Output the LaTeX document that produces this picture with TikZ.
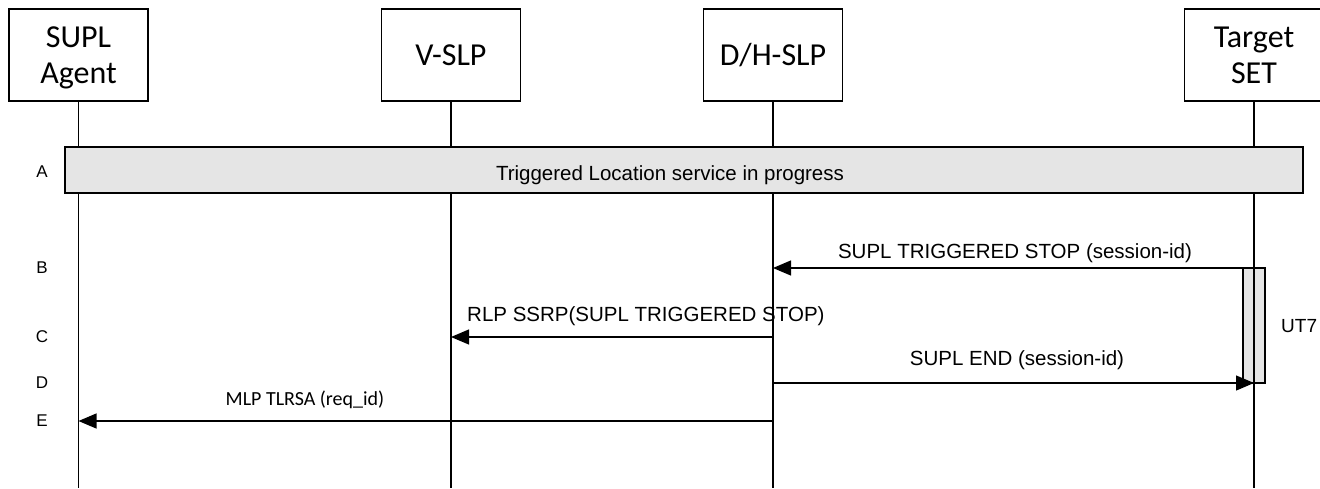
\documentclass[tikz,border=0pt]{standalone}
\usepackage{fontspec}
\setmainfont{Liberation Sans}
\newfontfamily\calib{Carlito}
\usetikzlibrary{arrows.meta}
\begin{document}
\begin{tikzpicture}[x=1pt,y=-1pt,
  ent/.style={draw,line width=1.2pt,minimum width=139pt,minimum height=92pt,inner sep=0pt},
  etext/.style={font=\calib\fontsize{32}{36}\selectfont,inner sep=0pt,anchor=base},
  life/.style={line width=1.2pt},
  msg/.style={line width=1.2pt,-{Triangle[length=18pt,width=15pt]}},
  lbl/.style={font=\fontsize{20.5}{24}\selectfont,inner sep=0pt,anchor=base},
  steplbl/.style={font=\fontsize{17}{20}\selectfont,inner sep=0pt}]
\useasboundingbox (0,0) rectangle (1320,488);
\node[ent] (sa) at (78.5,55) {};
\node[ent] (vs) at (451,55) {};
\node[ent] (dh) at (773,55) {};
\node[ent] (ts) at (1254,55) {};
\node[etext] (saA) at (78.5,47) {SUPL};
\node[etext] (saB) at (78.5,83) {Agent};
\node[etext] (vsA) at (451,65) {V-SLP};
\node[etext] (dhA) at (773,65) {D/H-SLP};
\node[etext] (tsA) at (1254,47) {Target};
\node[etext] (tsB) at (1254,83) {SET};
\foreach \n/\x in {sa/78.5,vs/451,dh/773,ts/1254}{
  \coordinate (\n end) at (\x,488);
  \draw[life] (\n.south) -- (\n end);
}
\node[draw,line width=1.2pt,fill=black!10,minimum width=1238pt,minimum height=46pt,inner sep=0pt] (band) at (684,170) {};
\node[lbl] (bandt) at (670,180) {Triggered Location service in progress};
\node[steplbl] (lA) at (42,172) {A};
\node[steplbl] (lB) at (42,268) {B};
\node[steplbl] (lC) at (42,337) {C};
\node[steplbl] (lD) at (42,383) {D};
\node[steplbl] (lE) at (42,421) {E};
% activation
\node[draw,line width=1.2pt,fill=black!10,minimum width=22pt,minimum height=115pt,inner sep=0pt] (act) at (1254,325.5) {};
\draw[line width=1.2pt] (act.north) -- (act.south);
\node[font=\fontsize{19}{22}\selectfont,inner sep=0pt,anchor=west] (ut) at (1281,326) {UT7};
% messages
\coordinate (bS) at (1254,268); \coordinate (bE) at (773,268);
\draw[msg] (bS) -- (bE);
\node[lbl] (mB) at (1015,258) {SUPL TRIGGERED STOP (session-id)};
\coordinate (cS) at (773,337); \coordinate (cE) at (451,337);
\draw[msg] (cS) -- (cE);
\node[lbl,anchor=base west] (mC) at (467,321) {RLP SSRP(SUPL TRIGGERED STOP)};
\coordinate (dS) at (773,383); \coordinate (dE) at (1254,383);
\draw[msg] (dS) -- (dE);
\node[lbl] (mD) at (1017,365) {SUPL END (session-id)};
\coordinate (eS) at (773,421); \coordinate (eE) at (78.5,421);
\draw[msg] (eS) -- (eE);
\node[font=\calib\fontsize{20}{24}\selectfont,inner sep=0pt,anchor=base] (mE) at (305,405) {MLP TLRSA (req\_id)};
\end{tikzpicture}
\end{document}
